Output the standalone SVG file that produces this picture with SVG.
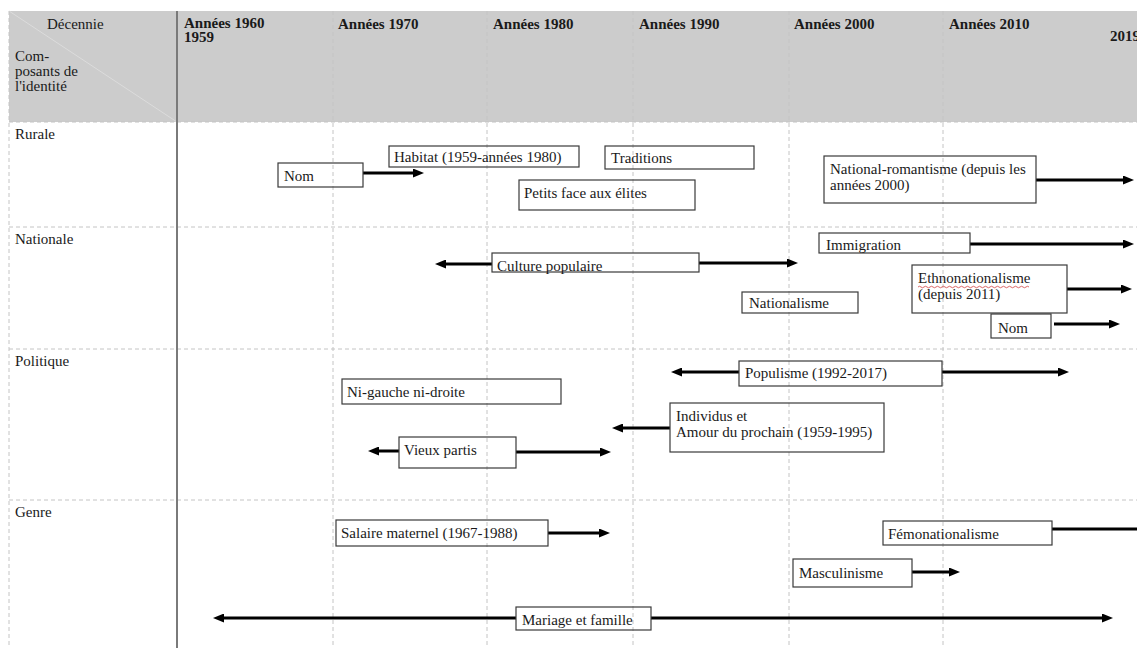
<svg xmlns="http://www.w3.org/2000/svg" width="1137" height="648" viewBox="0 0 1137 648">
<defs>
<marker id="ah" markerUnits="userSpaceOnUse" markerWidth="11" markerHeight="9" refX="4" refY="4.5" orient="auto">
<path d="M0,0 L11,4.5 L0,9 z" fill="#000"/>
</marker>
</defs>
<style>
.t{font-family:"Liberation Serif","Times New Roman","DejaVu Serif",serif;font-size:15px;fill:#1a1a1a}
.b{font-family:"Liberation Serif","Times New Roman","DejaVu Serif",serif;font-size:15px;font-weight:bold;fill:#1a1a1a}
.grid{stroke:#c4c4c4;stroke-width:1;stroke-dasharray:4 3;fill:none}
.box{fill:none;stroke:#3a3a3a;stroke-width:1.2}
.arr{stroke:#000;stroke-width:3;fill:none;marker-end:url(#ah)}
</style>
<rect width="1137" height="648" fill="#fff"/>
<g id="header">
<rect x="9" y="11" width="1128" height="111" fill="#cccccc"/>
<line x1="9" y1="11" x2="177" y2="122" stroke="#dcdcdc" stroke-width="1"/>
<text class="t" x="47" y="29">Décennie</text>
<text class="t" x="15" y="61">Com-</text>
<text class="t" x="15" y="76">posants de</text>
<text class="t" x="15" y="91">l'identité</text>
<text class="b" x="184" y="28">Années 1960</text>
<text class="b" x="184" y="42">1959</text>
<text class="b" x="338" y="29">Années 1970</text>
<text class="b" x="493" y="29">Années 1980</text>
<text class="b" x="639" y="29">Années 1990</text>
<text class="b" x="794" y="29">Années 2000</text>
<text class="b" x="949" y="29">Années 2010</text>
<text class="b" x="1110" y="41">2019</text>
</g>
<g id="grid">
<path class="grid" d="M9,11 V648 M333,11 V648 M487,11 V648 M633,11 V648 M789,11 V648 M943,11 V648"/>
<path class="grid" d="M9,122 H1137 M9,227 H1137 M9,349 H1137 M9,500 H1137"/>
<line x1="177" y1="11" x2="177" y2="648" stroke="#7a7a7a" stroke-width="2"/>
</g>
<g id="rows">
<text class="t" x="15" y="139">Rurale</text>
<text class="t" x="15" y="244">Nationale</text>
<text class="t" x="15" y="366">Politique</text>
<text class="t" x="15" y="517">Genre</text>
</g>
<g id="connectors">
<path class="arr" d="M363,173 H417"/>
<path class="arr" d="M1036,180 H1127"/>
<path class="arr" d="M492,264 H442"/>
<path class="arr" d="M699,263 H791"/>
<path class="arr" d="M970,244 H1127"/>
<path class="arr" d="M1067,289 H1125"/>
<path class="arr" d="M1054,324 H1113"/>
<path class="arr" d="M739,372 H678"/>
<path class="arr" d="M942,372 H1062"/>
<path class="arr" d="M670,428 H619"/>
<path class="arr" d="M399,451 H375"/>
<path class="arr" d="M516,452 H604"/>
<path class="arr" d="M548,533 H603"/>
<path class="arr" d="M1052,529 H1137" style="marker-end:none"/>
<path class="arr" d="M912,572 H953"/>
<path class="arr" d="M516,618 H220"/>
<path class="arr" d="M651,618 H1106"/>
</g>
<g id="n-nom1"><rect class="box" x="278" y="163" width="85" height="24"/><text class="t" x="284" y="181">Nom</text></g>
<g id="n-habitat"><rect class="box" x="389" y="146" width="190" height="21"/><text class="t" x="394" y="162">Habitat (1959-années 1980)</text></g>
<g id="n-traditions"><rect class="box" x="605" y="146" width="149" height="23"/><text class="t" x="611" y="163">Traditions</text></g>
<g id="n-petits"><rect class="box" x="519" y="180" width="176" height="30"/><text class="t" x="524" y="198">Petits face aux élites</text></g>
<g id="n-natrom"><rect class="box" x="824" y="156" width="212" height="47"/><text class="t" x="830" y="174">National-romantisme (depuis les</text><text class="t" x="830" y="190">années 2000)</text></g>
<g id="n-culture"><rect class="box" x="492" y="253" width="207" height="19"/><text class="t" x="497" y="271">Culture populaire</text></g>
<g id="n-immigration"><rect class="box" x="819" y="233" width="151" height="20"/><text class="t" x="826" y="250">Immigration</text></g>
<g id="n-ethno"><rect class="box" x="912" y="265" width="155" height="48"/><text class="t" x="918" y="283">Ethnonationalisme</text><path d="M918,287 q1.5,-1.5 3,0 t3,0 t3,0 t3,0 t3,0 t3,0 t3,0 t3,0 t3,0 t3,0 t3,0 t3,0 t3,0 t3,0 t3,0 t3,0 t3,0 t3,0 t3,0 t3,0 t3,0 t3,0 t3,0 t3,0 t3,0 t3,0 t3,0 t3,0 t3,0 t3,0 t3,0 t3,0 t3,0 t3,0 t3,0 t3,0 t3,0" fill="none" stroke="#d04040" stroke-width="0.8"/><text class="t" x="918" y="299">(depuis 2011)</text></g>
<g id="n-nationalisme"><rect class="box" x="742" y="292" width="116" height="21"/><text class="t" x="749" y="308">Nationalisme</text></g>
<g id="n-nom2"><rect class="box" x="991" y="314" width="60" height="24"/><text class="t" x="998" y="333">Nom</text></g>
<g id="n-populisme"><rect class="box" x="739" y="361" width="203" height="25"/><text class="t" x="745" y="378">Populisme (1992-2017)</text></g>
<g id="n-nigauche"><rect class="box" x="342" y="379" width="219" height="25"/><text class="t" x="347" y="397">Ni-gauche ni-droite</text></g>
<g id="n-individus"><rect class="box" x="670" y="403" width="214" height="49"/><text class="t" x="676" y="421">Individus et</text><text class="t" x="676" y="437">Amour du prochain (1959-1995)</text></g>
<g id="n-vieux"><rect class="box" x="399" y="437" width="117" height="31"/><text class="t" x="404" y="455">Vieux partis</text></g>
<g id="n-salaire"><rect class="box" x="336" y="520" width="212" height="26"/><text class="t" x="341" y="538">Salaire maternel (1967-1988)</text></g>
<g id="n-femo"><rect class="box" x="883" y="521" width="169" height="24"/><text class="t" x="888" y="539">Fémonationalisme</text></g>
<g id="n-mascu"><rect class="box" x="793" y="559" width="119" height="28"/><text class="t" x="799" y="578">Masculinisme</text></g>
<g id="n-mariage"><rect class="box" x="516" y="607" width="135" height="23"/><text class="t" x="522" y="625">Mariage et famille</text></g>
</svg>
